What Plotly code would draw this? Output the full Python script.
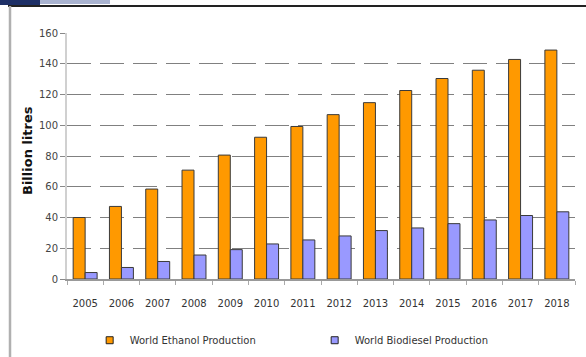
import plotly.graph_objects as go

years = [str(y) for y in range(2005, 2019)]
ethanol = [40, 47.2, 58.5, 70.8, 80.6, 92.2, 99.2, 106.9, 114.7, 122.6, 130.4, 135.8, 142.8, 148.9]
biodiesel = [4.2, 7.5, 11.4, 15.6, 19.1, 22.8, 25.4, 28.0, 31.5, 33.2, 36.0, 38.4, 41.3, 43.7]
y_ticks = [0, 20, 40, 60, 80, 100, 120, 140, 160]
names = ["World Ethanol Production", "World Biodiesel Production"]
colors = ["#FF9900", "#9999FF"]

W, H = 586, 357
L, R, T, B = 67, 11, 33, 78

def px(x):
    return (x - L) / (W - L - R)

def py(y):
    return (H - B - y) / (H - T - B)

FONT = "DejaVu Sans"

fig = go.Figure()
for vals, name, col in zip([ethanol, biodiesel], names, colors):
    fig.add_trace(go.Bar(
        x=years, y=vals, name=name, showlegend=False, legendgroup=name,
        marker=dict(color=col, line=dict(color="#3a3a3a", width=1)),
    ))
for name, col in zip(names, colors):
    fig.add_trace(go.Scatter(
        x=[None], y=[None], mode="markers", name=name, legendgroup=name,
        marker=dict(symbol="square", size=7, color=col, line=dict(color="#222222", width=1)),
    ))

shapes = [
    dict(type="line", xref="paper", yref="paper", x0=px(8), x1=px(586), y0=py(6), y1=py(6),
         line=dict(color="#222222", width=2)),
    dict(type="line", xref="paper", yref="paper", x0=px(10), x1=px(10), y0=py(6), y1=py(357),
         line=dict(color="#b0b0b0", width=2.5)),
    dict(type="rect", xref="paper", yref="paper", x0=px(0), x1=px(40), y0=py(0), y1=py(5),
         fillcolor="#1d2f66", line=dict(width=0), layer="below"),
    dict(type="rect", xref="paper", yref="paper", x0=px(40), x1=px(110), y0=py(0), y1=py(4),
         fillcolor="#6f80b0", opacity=0.6, line=dict(width=0), layer="below"),
]

annotations = [
    dict(text="<b>Billion litres</b>", xref="paper", yref="paper", x=px(27), y=py(151),
         textangle=-90, showarrow=False, xanchor="center", yanchor="middle",
         font=dict(family=FONT, size=13, color="#111111")),
]

fig.update_layout(
    width=W, height=H,
    margin=dict(l=L, r=R, t=T, b=B),
    paper_bgcolor="white", plot_bgcolor="white",
    barmode="group", bargap=0.34, bargroupgap=0,
    font=dict(family=FONT, size=10, color="#333333"),
    shapes=shapes, annotations=annotations,
    showlegend=True,
    legend=dict(
        orientation="h", xref="container", yref="container",
        x=0.153, y=0.047, xanchor="left", yanchor="middle",
        entrywidth=180, entrywidthmode="pixels",
        font=dict(family=FONT, size=10, color="#333333"),
        itemwidth=30, traceorder="normal", itemclick=False,
    ),
    xaxis=dict(
        type="category", tickson="boundaries", ticks="outside", ticklen=4,
        tickcolor="#aaaaaa", showline=True, linecolor="#999999", linewidth=1.5,
        showgrid=False, ticklabelstandoff=14,
        tickfont=dict(family=FONT, size=10, color="#333333"),
    ),
    yaxis=dict(
        range=[0, 160], tickvals=y_ticks, ticks="outside", ticklen=5,
        tickcolor="#888888", showline=True, linecolor="#d0d0d0", linewidth=2,
        showgrid=True, gridcolor="#808080", gridwidth=1.2, griddash="24px,9px",
        zeroline=False,
        tickfont=dict(family=FONT, size=10, color="#444444"),
    ),
)

fig.write_html("out.html")
